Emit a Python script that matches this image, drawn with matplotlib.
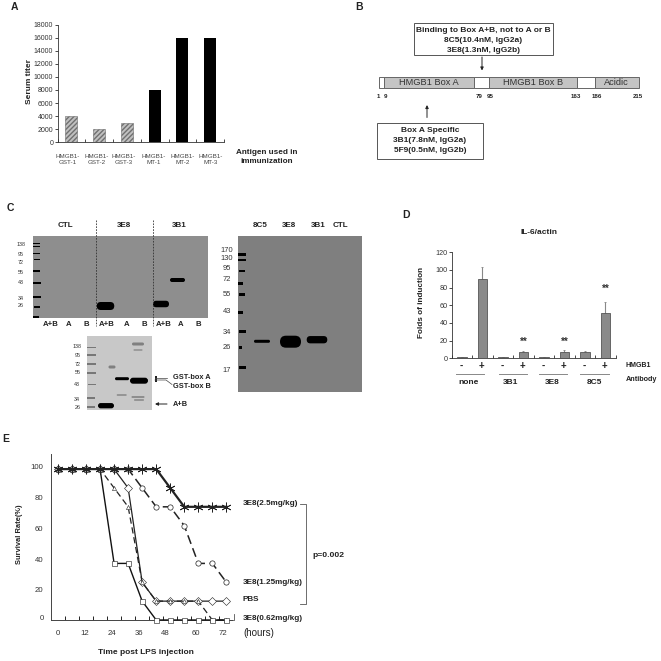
import matplotlib
matplotlib.use('Agg')
import matplotlib.pyplot as plt
from matplotlib.patches import Rectangle, FancyBboxPatch

plt.rcParams['font.family'] = ['Liberation Sans', 'DejaVu Sans']

W = 661

# PANEL A
a_labels = ['HMGB1-\nGST-1', 'HMGB1-\nGST-2', 'HMGB1-\nGST-3', 'HMGB1-\nMT-1', 'HMGB1-\nMT-2', 'HMGB1-\nMT-3']
a_label_x = [68, 97, 124, 154, 183, 211]
a_titers = [4000, 2000, 3000, 8000, 16000, 16000]
a_yticks = [0, 2000, 4000, 6000, 8000, 10000, 12000, 14000, 16000, 18000]

# PANEL B (the drawing is not to scale, so edges are read in pixels)
b_domains = [('', 379, 384, 'white'), ('HMGB1 Box A', 384, 473.5, '#c4c4c4'), ('', 473.5, 488.5, 'white'),
             ('HMGB1 Box B', 488.5, 577, '#c4c4c4'), ('', 577, 594.5, 'white'), ('Acidic', 594.5, 638.5, '#c4c4c4')]
b_residues = [('1', 378.7), ('9', 386), ('79', 478.7), ('95', 490), ('163', 576), ('186', 597), ('215', 638)]

# PANEL D
d_signs = ['-', '+'] * 4
d_groups = ['none', '3B1', '3E8', '8C5']
d_group_x = [469, 511, 552.3, 594.7]
d_line_x = [(456, 484), (498.7, 526.7), (538.7, 566.7), (580, 609)]
d_values = [1, 90, 1, 7.5, 1.5, 7, 7, 51]
d_errors = [0.5, 13, 0.4, 0.6, 0.3, 2, 0.8, 13]
d_star_pos = [(3.5, 19), (5.5, 19), (7.5, 79)]

# PANEL E
e_hours = [0, 6, 12, 18, 24, 30, 36, 42, 48, 54, 60, 66, 72]
e_25 = [100, 100, 100, 100, 100, 100, 100, 100, 87.5, 75, 75, 75, 75]
e_125 = [100, 100, 100, 100, 100, 100, 87.5, 75, 75, 62.5, 37.5, 37.5, 25]
e_pbs = [100, 100, 100, 100, 100, 87.5, 25, 12.5, 12.5, 12.5, 12.5, 12.5, 12.5]
e_062 = [100, 100, 100, 100, 87.5, 75, 25, 12.5, 12.5, 12.5, 12.5, 0, 0]
e_mig = [100, 100, 100, 100, 37.5, 37.5, 12.5, 0, 0, 0, 0, 0, 0]
e_xlabels = [('0', 58), ('12', 84.7), ('24', 111.7), ('36', 138.7), ('48', 165.7), ('60', 195.7), ('72', 222.7)]
e_ylabels = [('100', 467.5), ('80', 499), ('60', 529.5), ('40', 560), ('20', 590), ('0', 618)]

# GELS: centre x, centre y, width, height in image pixels
gel1_ladder = [(36.5, 243.3, 6.5, 1.6), (36.5, 246.3, 6.5, 1.6), (36.5, 253.3, 6.5, 1.6), (36.5, 259.3, 6, 1.6),
               (36.5, 270.7, 7, 1.8), (37, 283.3, 7.5, 1.8), (37, 296.7, 7.5, 1.6), (36.5, 307.3, 6, 1.8), (36, 317, 6, 1.4)]
gel1_bands = [(105.5, 306, 17.5, 8), (161, 304, 16, 6.5), (177.5, 280, 15, 4)]
gel1_sizes = [('138', 245), ('95', 254), ('72', 262.7), ('55', 272), ('43', 282.3), ('34', 298), ('26', 305.3)]
gel2_ladder = [(242, 254.3, 7.5, 2.8), (242, 260, 7.5, 2.5), (242, 271, 6.5, 2.8), (240.5, 283.3, 4.5, 2.8), (242, 294.3, 6.5, 2.8),
               (240.5, 312.3, 4.5, 2.8), (242, 331.7, 7, 2.5), (240.5, 347.7, 3.5, 2.8), (242, 367.7, 7, 2.8)]
gel2_bands = [(262, 341.3, 16, 3), (290.5, 341.7, 21, 12), (317, 339.7, 20.6, 7.3)]
gel2_sizes = [('170', 250.7), ('130', 259), ('95', 268), ('72', 279.7), ('55', 295), ('43', 311.7), ('34', 332.3), ('26', 347.7), ('17', 370.7)]
gel3_ladder = [(91.5, 347.3, 9, 1.6), (91.5, 355, 9, 1.6), (91.5, 363.7, 9, 1.6), (91.5, 372.7, 9, 1.6), (91.5, 384.3, 8, 1.6),
               (91, 398.3, 8, 2.2), (91, 407.3, 8, 2)]
gel3_bands = [(122, 378.7, 14, 3), (139, 380.7, 18, 6), (106, 405.7, 16, 5.3)]
gel3_faint = [(121.7, 395, 10, 1.4), (138, 397, 13, 1.6), (139, 400, 10, 1.4), (138, 344, 12, 3), (112, 367, 7, 3), (138, 350, 9, 1.2)]
gel3_sizes = [('138', 347), ('95', 355.7), ('72', 364), ('55', 373), ('43', 384), ('34', 399.5), ('26', 407.3)]


def px_axes(x0, y0, x1, y1):
    # axes from image pixel box (y measured from the top)
    return fig.add_axes([x0 / W, 1 - y1 / W, (x1 - x0) / W, (y1 - y0) / W])


fig = plt.figure(figsize=(6.61, 6.61), dpi=100)
bg = fig.add_axes([0, 0, 1, 1])
bg.set_xlim(0, W)
bg.set_ylim(W, 0)
bg.axis('off')


def t(x, y, s, size=6.1, weight='bold', ha='center', color='#222222', **kw):
    bg.text(x, y, s, fontsize=size, fontweight=weight, ha=ha, va='center', color=color, **kw)


def arrow(x0, y0, x1, y1):
    bg.annotate('', xy=(x1, y1), xytext=(x0, y0), arrowprops=dict(arrowstyle='-|>', lw=0.7, color='#222222', mutation_scale=4.5, shrinkA=0, shrinkB=0))


def band(cx, cy, w, h, col):
    r = min(w, h) / 2
    bg.add_patch(FancyBboxPatch((cx - w / 2, cy - h / 2), w, h, boxstyle='round,pad=0,rounding_size=%f' % r, fc=col, ec='none', zorder=2))


# panel letters
t(14, 7, 'A', 7.5)
t(359, 7, 'B', 7.5)
t(10, 207.7, 'C', 7.5)
t(406, 215, 'D', 7.5)
t(6, 439, 'E', 7.5)

# A
ax = px_axes(57.5, 24.5, 224, 142.3)
for i, v in enumerate(a_titers):
    if i < 3:
        ax.bar(i + 0.5, v, 0.43, color='#c0c0c0', edgecolor='#707070', hatch='///////', lw=0.4, zorder=2)
    else:
        ax.bar(i + 0.5, v, 0.43, color='black', zorder=2)
ax.set_xlim(0, 6)
ax.set_ylim(0, 18000)
ax.set_yticks(a_yticks)
ax.set_xticks(range(7))
ax.set_xticklabels([])
ax.tick_params(axis='y', labelsize=5, length=2, width=0.5, pad=1, labelcolor='#333333')
ax.tick_params(axis='x', length=2.5, width=0.5, direction='in')
for s in ['top', 'right']:
    ax.spines[s].set_visible(False)
for s in ['left', 'bottom']:
    ax.spines[s].set_linewidth(0.6)
    ax.spines[s].set_color('#333333')
for x, lab in zip(a_label_x, a_labels):
    t(x, 159.5, lab, 4.5, 'normal', color='#444444', linespacing=1.35)
t(29.3, 82, 'Serum titer', 6, rotation=90)
t(267, 157, 'Antigen used in\nimmunization', 5.9, linespacing=1.45)

# B
for name, x0, x1, col in b_domains:
    bg.add_patch(Rectangle((x0, 76.7), x1 - x0, 11.5, fc=col, ec='#666666', lw=0.7))
    if name:
        t((x0 + x1) / 2, 82.5, name, 6.7, 'normal', color='#333333')
for s, x in b_residues:
    t(x, 96.7, s, 4.4)
bg.add_patch(Rectangle((414, 22.7), 138.7, 32.3, fc='white', ec='#555555', lw=0.7))
t(483.5, 30.5, 'Binding to Box A+B, not to A or B', 6)
t(483.5, 40, '8C5(10.4nM, IgG2a)', 6)
t(483.5, 50, '3E8(1.3nM, IgG2b)', 6)
arrow(482, 57, 482, 70.5)
bg.add_patch(Rectangle((377, 123), 105.7, 35.7, fc='white', ec='#555555', lw=0.7))
t(430, 131, 'Box A Specific', 6)
t(430, 140.5, '3B1(7.8nM, IgG2a)', 6)
t(430, 151, '5F9(0.5nM, IgG2b)', 6)
arrow(427, 117.5, 427, 105)


# C
def gel(x0, y0, x1, y1, col, ladder, bands, sizes, sx, fs, lad='black'):
    bg.add_patch(Rectangle((x0, y0), x1 - x0, y1 - y0, fc=col, ec='none', zorder=1))
    for cx, cy, w, h in ladder:
        bg.add_patch(Rectangle((cx - w / 2, cy - h / 2), w, h, fc=lad, ec='none', zorder=2))
    for cx, cy, w, h in bands:
        band(cx, cy, w, h, 'black')
    for s, y in sizes:
        t(sx, y, s, fs, 'normal', color='#333333')


gel(33, 236, 208, 318, '#8e8e8e', gel1_ladder, gel1_bands, gel1_sizes, 20.7, 3.9)
for x in [95.7, 152.7]:
    bg.plot([x, x], [220, 326], color='#333333', lw=0.6, ls=(0, (2, 1.5)), zorder=3)
for s, x in [('CTL', 65), ('3E8', 124), ('3B1', 179)]:
    t(x, 225.5, s, 5.8)
for s, x in [('A+B', 51), ('A', 69), ('B', 86.7), ('A+B', 107), ('A', 126.7), ('B', 144), ('A+B', 163.7), ('A', 181), ('B', 198.7)]:
    t(x, 325, s, 5.6)

gel(238, 236, 362, 392, '#7f7f7f', gel2_ladder, gel2_bands, gel2_sizes, 226.7, 5.4)
for s, x in [('8C5', 260), ('3E8', 289), ('3B1', 318), ('CTL', 340.7)]:
    t(x, 225.5, s, 5.8)

gel(87, 336, 152, 409.5, '#c8c8c8', gel3_ladder, gel3_bands, gel3_sizes, 77.3, 3.9, lad='#777777')
for cx, cy, w, h in gel3_faint:
    band(cx, cy, w, h, '#808080')
t(173, 377.2, 'GST-box A', 5.3, ha='left')
t(173, 386.7, 'GST-box B', 5.3, ha='left')
t(173, 404, 'A+B', 5.3, ha='left')
bg.plot([155, 167], [378, 378], color='#444444', lw=0.5)
bg.plot([155, 166, 172], [380, 380, 384.5], color='#444444', lw=0.5)
bg.add_patch(Rectangle((155, 376), 2, 6, fc='#222222', ec='none'))
arrow(167, 404, 155, 404)

# D
ax = px_axes(451.7, 252.3, 615.7, 358.3)
for i in range(8):
    ax.bar(i + 0.5, d_values[i], 0.45, color='#8a8a8a', edgecolor='#555555', lw=0.6, zorder=2)
    ax.errorbar(i + 0.5, d_values[i], yerr=[[0], [d_errors[i]]], color='#888888', lw=0.8, capsize=1, capthick=0.6, zorder=1)
for x, y in d_star_pos:
    ax.text(x, y, '**', fontsize=7, fontweight='bold', ha='center', va='center', color='#333333')
ax.set_xlim(0, 8)
ax.set_ylim(0, 120)
ax.set_yticks(range(0, 121, 20))
ax.set_xticks(range(9))
ax.set_xticklabels([])
ax.tick_params(axis='y', labelsize=5.2, length=2, width=0.5, pad=1, labelcolor='#333333')
ax.tick_params(axis='x', length=2, width=0.5, direction='in')
for s in ['top', 'right']:
    ax.spines[s].set_visible(False)
for s in ['left', 'bottom']:
    ax.spines[s].set_linewidth(0.6)
    ax.spines[s].set_color('#333333')
for i, s in enumerate(d_signs):
    t(461 + i * 20.5, 366.3, s, 7)
for s, x, (x0, x1) in zip(d_groups, d_group_x, d_line_x):
    t(x, 382, s, 6)
    bg.plot([x0, x1], [373.7, 373.7], color='#888888', lw=0.7)
t(625.7, 365.3, 'HMGB1', 5, ha='left')
t(625.7, 379.3, 'Antibody', 5.2, ha='left')
t(538.7, 232, 'IL-6/actin', 6)
t(421.7, 302, 'Folds of induction', 5.9, rotation=90)

# E
ax = px_axes(50.7, 454, 232, 620)
ax.plot(e_hours, e_25, color='#222222', lw=1.6, marker=(6, 2, 0), ms=7, mew=0.6, clip_on=False, zorder=5)
ax.plot(e_hours, e_125, color='#222222', lw=1.1, ls=(0, (6, 3)), marker='o', ms=3.8, mfc='white', mew=0.5, clip_on=False, zorder=4)
ax.plot(e_hours, e_pbs, color='#222222', lw=0.9, marker='D', ms=4, mfc='white', mew=0.4, clip_on=False, zorder=3)
ax.plot(e_hours, e_062, color='#222222', lw=0.9, ls=(0, (5, 3)), marker='^', ms=3, mfc='white', mew=0.4, clip_on=False, zorder=3)
ax.plot(e_hours, e_mig, color='#111111', lw=1.0, marker='s', ms=3.6, mfc='white', mew=0.4, clip_on=False, zorder=3)
ax.set_xlim(-3.1, 74.4)
ax.set_ylim(0, 110)
ax.set_xticks([h + 3 for h in e_hours[:-1]])
ax.set_xticklabels([])
ax.set_yticks([])
ax.tick_params(axis='x', length=2.8, width=0.6, direction='in')
for s in ['top', 'right']:
    ax.spines[s].set_visible(False)
for s in ['left', 'bottom']:
    ax.spines[s].set_linewidth(0.7)
    ax.spines[s].set_color('#444444')
for s, x in e_xlabels:
    t(x, 633.3, s, 5.6, 'normal', color='#333333')
for s, y in e_ylabels:
    t(43.5, y, s, 5.6, 'normal', ha='right', color='#333333')
t(19.3, 534, 'Survival Rate(%)', 5.4, rotation=90)
t(146, 652.7, 'Time post LPS injection', 6)
t(86.7, 586.7, 'mIg(2.5mg/kg)', 6.1)
bg.annotate('', xy=(112, 565), xytext=(102, 577), arrowprops=dict(arrowstyle='->', lw=0.5, color='#222222', mutation_scale=4, shrinkA=0, shrinkB=0))
t(242.3, 503.3, '3E8(2.5mg/kg)', 5.9, ha='left')
t(242.3, 582.3, '3E8(1.25mg/kg)', 5.9, ha='left')
t(242.3, 599.7, 'PBS', 5.9, ha='left')
t(242.3, 618.3, '3E8(0.62mg/kg)', 5.9, ha='left')
t(243, 632.7, '(hours)', 7, 'normal', ha='left')
t(312.7, 555.7, 'p=0.002', 6.1, ha='left')
bg.plot([300, 305.7, 305.7, 300], [504, 504, 604, 604], color='#555555', lw=0.6)
bg.plot([230, 234, 234], [620, 620, 614], color='#555555', lw=0.6)

fig.savefig('out.png', dpi=100)
